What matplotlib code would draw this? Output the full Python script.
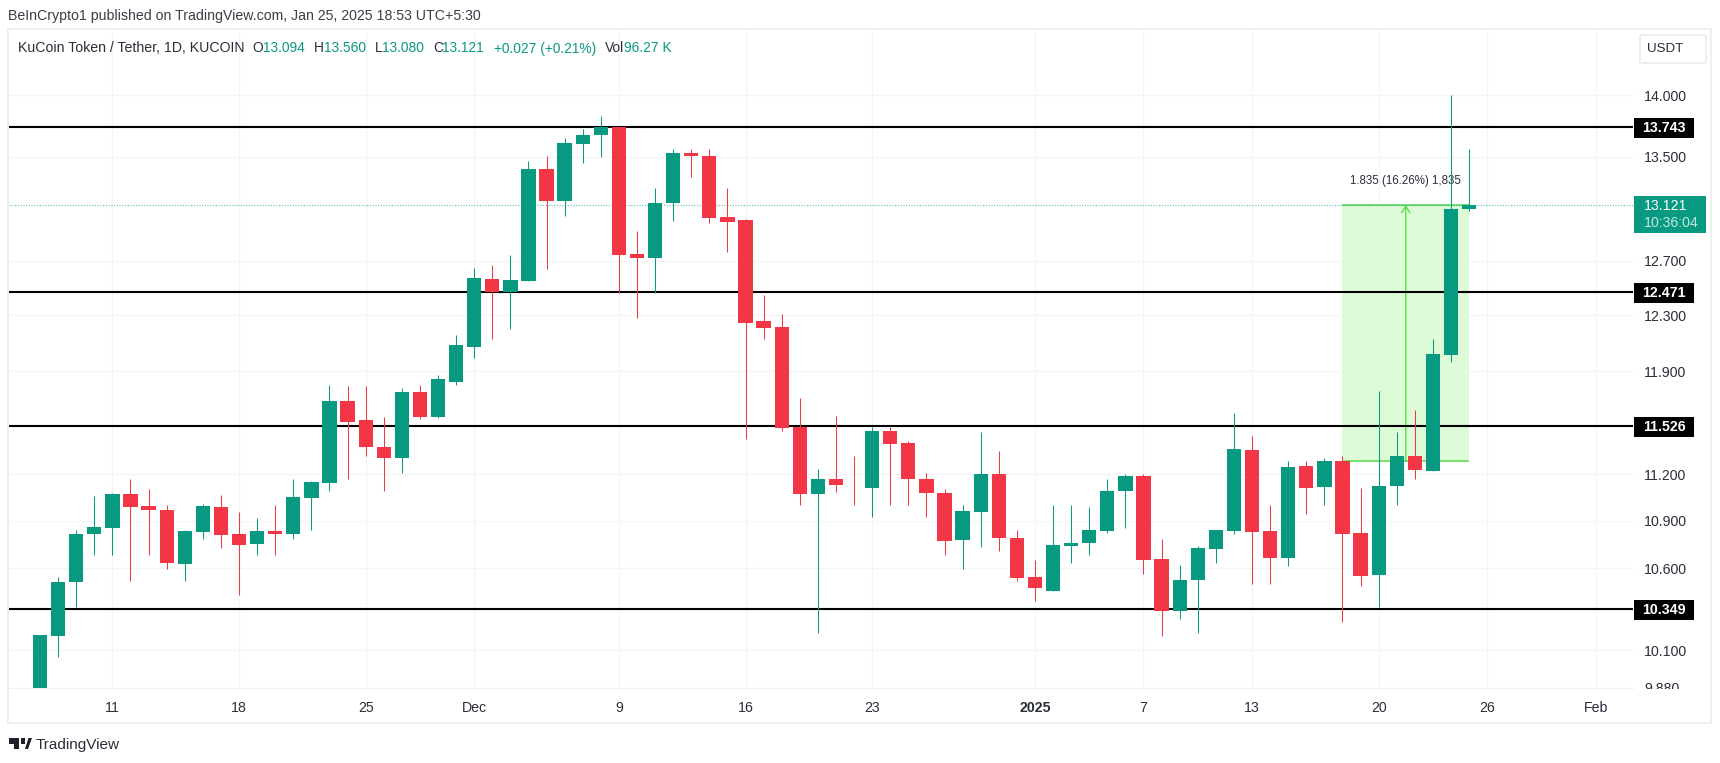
import matplotlib
matplotlib.use("Agg")
import matplotlib.pyplot as plt
from matplotlib.patches import Rectangle, FancyBboxPatch, Polygon
from matplotlib.ticker import NullFormatter, NullLocator
from matplotlib.transforms import Bbox

plt.rcParams['font.family'] = ['Liberation Sans', 'DejaVu Sans']

W, H = 1720, 763
# days counted from 11 Nov 2024
first_day = -4
opens = [9.822,10.186,10.513,10.817,10.853,11.074,10.997,10.968,10.628,10.828,10.990,10.817,10.749,10.834,10.817,11.048,
         11.143,11.695,11.563,11.385,11.311,11.756,11.584,11.826,12.075,12.561,12.471,12.549,13.401,13.157,13.604,13.676,
         13.743,12.754,12.718,13.137,13.528,13.510,13.028,13.007,12.255,12.215,11.519,11.074,11.167,11.127,11.112,11.493,
         11.407,11.173,11.078,10.774,10.957,11.200,10.791,10.542,10.456,10.738,10.755,10.834,11.092,11.187,10.658,10.337,
         10.526,10.717,10.834,11.361,10.834,10.664,11.254,11.118,11.291,10.821,10.557,11.123,11.324,11.220,12.018,13.094]
highs = [10.192,10.546,10.838,11.061,11.078,11.167,11.105,10.999,10.838,11.008,11.067,10.957,10.915,10.999,11.167,11.154,
         11.805,11.798,11.798,11.584,11.781,11.805,11.874,12.158,12.649,12.666,12.746,13.469,13.505,13.648,13.720,13.826,
         13.743,12.927,13.253,13.562,13.565,13.565,13.253,13.012,12.447,12.305,11.717,11.233,11.589,11.324,11.515,11.515,
         11.422,11.211,11.105,10.999,11.480,11.356,10.840,10.653,10.999,10.999,10.990,11.167,11.204,11.204,10.781,10.621,
         10.736,10.840,11.610,11.454,10.999,11.287,11.287,11.311,11.324,11.112,11.763,11.480,11.636,12.127,14.000,13.560]
lows = [9.822,10.061,10.361,10.681,10.681,10.520,10.681,10.592,10.520,10.781,10.725,10.431,10.681,10.681,10.785,10.840,
        11.092,11.167,11.324,11.092,11.211,11.568,11.577,11.805,11.997,12.127,12.200,12.549,12.639,13.038,13.453,13.497,
        12.459,12.283,12.459,13.000,13.341,12.987,12.762,11.437,12.127,11.489,10.999,10.200,11.085,10.999,10.924,10.999,
        10.999,10.922,10.681,10.592,10.732,10.704,10.522,10.394,10.456,10.634,10.681,10.821,10.853,10.561,10.182,10.285,
        10.200,10.634,10.817,10.503,10.503,10.611,10.945,10.999,10.271,10.491,10.361,10.999,11.167,11.220,11.967,13.080]
closes = [10.192,10.513,10.817,10.857,11.074,10.990,10.968,10.632,10.834,10.997,10.811,10.742,10.834,10.817,11.054,11.149,
          11.695,11.552,11.385,11.311,11.756,11.584,11.844,12.087,12.569,12.471,12.554,13.401,13.157,13.609,13.676,13.738,
          12.741,12.718,13.139,13.534,13.505,13.023,12.992,12.245,12.210,11.510,11.074,11.167,11.131,11.123,11.487,11.400,
          11.167,11.078,10.768,10.964,11.200,10.787,10.536,10.475,10.742,10.760,10.840,11.092,11.193,10.653,10.337,10.526,
          10.723,10.840,11.368,10.828,10.664,11.250,11.112,11.291,10.817,10.551,11.123,11.324,11.231,12.021,13.094,13.121]
days = [first_day + i for i in range(len(opens))]

levels = [13.743, 12.471, 11.526, 10.349]
last_price = 13.121
y_ticks = [14.0, 13.5, 12.7, 12.3, 11.9, 11.2, 10.9, 10.6, 10.1, 9.88]
x_tick_days = [0, 7, 14, 20, 28, 35, 42, 51, 57, 63, 70, 76, 82]
x_tick_labels = ['11', '18', '25', 'Dec', '9', '16', '23', '2025', '7', '13', '20', '26', 'Feb']
measure_start, measure_end = 68, 75
measure_low, measure_high = 11.286, 13.121
measure_label = '1.835 (16.26%) 1,835'

UP, DOWN = '#089981', '#F23645'
TXT = '#2a2e39'

fig = plt.figure(figsize=(W / 100, H / 100), dpi=100, facecolor='white')

def fx(x): return x / W
def fy(y): return 1 - y / H

# outer frame
fig.add_artist(Rectangle((fx(8), fy(723)), (1711 - 8) / W, (723 - 29) / H, transform=fig.transFigure,
                         fc='white', ec='#eeeff1', lw=1.4, zorder=0))

L, R, T, B = 9, 1633, 30, 688
ax = fig.add_axes([fx(L), fy(B), (R - L) / W, (B - T) / H], zorder=1)
ax.patch.set_alpha(0)
ax.set_yscale('log')
ax.set_xlim(-5.716, 84.06)
ax.set_ylim(9.878, 14.546)
ax.yaxis.set_minor_locator(NullLocator())
ax.yaxis.set_minor_formatter(NullFormatter())
ax.yaxis.tick_right()
ax.set_yticks(y_ticks)
ax.set_yticklabels([f'{v:.3f}' for v in y_ticks])
ax.set_xticks(x_tick_days)
ax.set_xticklabels(x_tick_labels)
ax.tick_params(axis='y', length=0, pad=8, labelsize=10.2, labelcolor=TXT)
ax.tick_params(axis='x', length=0, pad=9, labelsize=10.2, labelcolor=TXT)
ax.grid(True, color='#f3f4f6', lw=0.9, zorder=0)
ax.set_axisbelow(True)
for name, sp in ax.spines.items():
    sp.set_visible(name == 'bottom')
    sp.set_color('#f0f1f3')
for lab in ax.get_xticklabels():
    if lab.get_text() == '2025':
        lab.set_fontweight('bold')
for lab in ax.get_yticklabels():
    if lab.get_text() == '9.880':
        lab.set_clip_box(Bbox([[1600, H - 689], [1720, H - 600]]))
        lab.set_clip_on(True)

# measure tool
ax.fill_between([measure_start, measure_end], measure_low, measure_high, color='#dcfbd6', lw=0, zorder=1)
ax.hlines([measure_low, measure_high], measure_start, measure_end, color='#62de58', lw=1.2, zorder=2)
arrow_x = (measure_start + measure_end) / 2
ax.annotate('', xy=(arrow_x, measure_high), xytext=(arrow_x, measure_low), zorder=2,
            arrowprops=dict(arrowstyle='->,head_length=0.45,head_width=0.3', color='#4fdc48', lw=0.9, shrinkA=0, shrinkB=0))
ax.text(arrow_x, measure_high * 1.0142, measure_label, ha='center', va='center', fontsize=8.3, color=TXT, zorder=3)

# last price and levels
ax.axhline(last_price, color=UP, lw=0.9, ls=(0, (1, 1.2)), alpha=0.55, zorder=2)
ax.hlines(levels, ax.get_xlim()[0], ax.get_xlim()[1], color='black', lw=1.5, zorder=3)

# candles
colors = [UP if c >= o else DOWN for o, c in zip(opens, closes)]
ax.vlines(days, lows, highs, colors=colors, lw=0.75, zorder=4)
ax.bar(days, [abs(c - o) for o, c in zip(opens, closes)], bottom=[min(o, c) for o, c in zip(opens, closes)],
       width=0.79, color=colors, lw=0, zorder=5)

fig.canvas.draw()

def py(v):
    return H - ax.transData.transform((0, v))[1]

# price labels
for v in levels:
    c = py(v) + 1
    fig.add_artist(Rectangle((fx(1634), fy(c + 10)), 60 / W, 20 / H, transform=fig.transFigure, fc='black', ec='none', zorder=5))
    fig.text(fx(1664), fy(c), f'{v:.3f}', color='white', ha='center', va='center', fontsize=10.2, fontweight='bold', zorder=6)

fig.add_artist(Rectangle((fx(1634), fy(233)), 72 / W, 37 / H, transform=fig.transFigure, fc=UP, ec='none', zorder=5))
fig.text(fx(1644), fy(206), f'{last_price:.3f}', color='white', ha='left', va='center', fontsize=10.2, zorder=6)
fig.text(fx(1644), fy(223), '10:36:04', color='#c5e8e0', ha='left', va='center', fontsize=10.2, zorder=6)

# USDT button
fig.add_artist(FancyBboxPatch((fx(1640), fy(63)), 66 / W, 28 / H, boxstyle='round,pad=0,rounding_size=0.002',
                              transform=fig.transFigure, fc='white', ec='#e6e7ea', lw=1.0, zorder=5))
fig.text(fx(1665), fy(49.5), 'USDT', color=TXT, ha='center', va='center', fontsize=9.6, zorder=6)

# header
fig.text(fx(8), fy(16), 'BeInCrypto1 published on TradingView.com, Jan 25, 2025 18:53 UTC+5:30',
         color='#3a3d46', ha='left', va='center', fontsize=10.2)
fig.text(fx(18), fy(48.5), 'KuCoin Token / Tether, 1D, KUCOIN', color=TXT, ha='left', va='center', fontsize=10.15)
legend_parts = [(252, 'O', TXT), (263, '13.094', UP),
                (314, 'H', TXT), (324, '13.560', UP), (375, 'L', TXT), (382, '13.080', UP),
                (433, 'C', TXT), (442, '13.121', UP), (494, '+0.027 (+0.21%)', UP),
                (604.5, 'Vol', TXT), (624, '96.27 K', UP)]
for x, s, col in legend_parts:
    fig.text(fx(x), fy(48.5), s, color=col, ha='left', va='center', fontsize=9.9)

# footer logo
logo = '#1f2128'
fig.add_artist(Rectangle((fx(9), fy(744)), 10 / W, 6 / H, transform=fig.transFigure, fc=logo, ec='none'))
fig.add_artist(Rectangle((fx(13.5), fy(749)), 5.5 / W, 11 / H, transform=fig.transFigure, fc=logo, ec='none'))
fig.add_artist(Polygon([(fx(25), fy(749)), (fx(28), fy(749)), (fx(32), fy(738)), (fx(28.5), fy(738))],
                       transform=fig.transFigure, fc=logo, ec='none'))
fig.add_artist(Rectangle((fx(21), fy(744)), 4 / W, 6 / H, transform=fig.transFigure, fc=logo, ec='none'))
fig.text(fx(36), fy(745), 'TradingView', color='#2a2e39', ha='left', va='center', fontsize=11)

fig.savefig('out.png', dpi=100, facecolor='white')
